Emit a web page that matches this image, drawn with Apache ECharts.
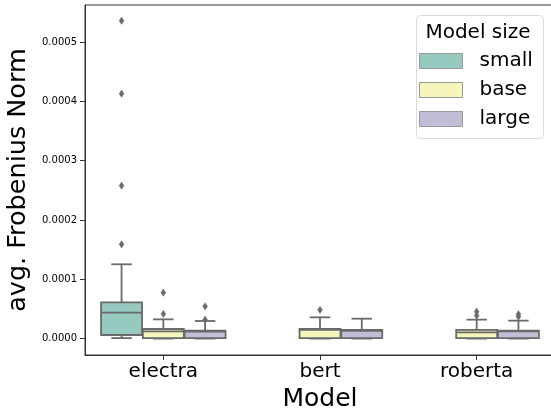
<!DOCTYPE html>
<html>
<head>
<meta charset="utf-8">
<script src="https://cdn.jsdelivr.net/npm/echarts@6/dist/echarts.min.js"></script>
<style>
html,body{margin:0;padding:0;background:#fff;}
#chart{width:551px;height:410px;}
</style>
</head>
<body>
<div id="chart"></div>
<script>
// ---- data ----
const categories = ['electra', 'bert', 'roberta'];
const sizes = ['small', 'base', 'large'];
// [categoryIndex, min, Q1, median, Q3, max]
const smallStats = [[0, 0.0000010, 0.0000062, 0.0000439, 0.0000612, 0.0001254]];
const baseStats = [
  [0, 0.0000002, 0.0000008, 0.0000123, 0.0000163, 0.0000326],
  [1, 0.0000002, 0.0000008, 0.0000150, 0.0000163, 0.0000360],
  [2, 0.0000002, 0.0000008, 0.0000106, 0.0000147, 0.0000321]
];
const largeStats = [
  [0, 0.0000002, 0.0000008, 0.0000118, 0.0000135, 0.0000298],
  [1, 0.0000002, 0.0000008, 0.0000133, 0.0000147, 0.0000337],
  [2, 0.0000002, 0.0000008, 0.0000122, 0.0000135, 0.0000304]
];
// [categoryIndex, value]
const smallOutliers = [[0, 0.000159], [0, 0.000258], [0, 0.000413], [0, 0.000536]];
const baseOutliers = [[0, 0.0000417], [0, 0.0000776], [1, 0.0000484], [2, 0.0000388], [2, 0.0000455]];
const largeOutliers = [[0, 0.0000320], [0, 0.0000545], [2, 0.0000371], [2, 0.0000413]];
const yTicks = [0, 0.0001, 0.0002, 0.0003, 0.0004, 0.0005];

// ---- style ----
const fills = ['#96cac1', '#f6f6bc', '#c1bed6'];
const edge = '#6a6a6a';
const font = 'DejaVu Sans';

function boxRenderer(hue) {
  return function (params, api) {
    const x = api.value(0);
    const cx = api.coord([x, 0])[0];
    const band = api.size([1, 0])[0];
    const w = band * 0.8 / 3;
    const c = cx + (hue - 1) * w;
    const bw = w * 0.98;
    const yMin = api.coord([x, api.value(1)])[1];
    const yQ1 = api.coord([x, api.value(2)])[1];
    const yMed = api.coord([x, api.value(3)])[1];
    const yQ3 = api.coord([x, api.value(4)])[1];
    const yMax = api.coord([x, api.value(5)])[1];
    const ls = { stroke: edge, lineWidth: 1.8 };
    return {
      type: 'group',
      children: [
        { type: 'line', shape: { x1: c, y1: yQ3, x2: c, y2: yMax }, style: ls },
        { type: 'line', shape: { x1: c, y1: yQ1, x2: c, y2: yMin }, style: ls },
        { type: 'line', shape: { x1: c - bw / 4, y1: yMax, x2: c + bw / 4, y2: yMax }, style: ls },
        { type: 'line', shape: { x1: c - bw / 4, y1: yMin, x2: c + bw / 4, y2: yMin }, style: ls },
        { type: 'rect', shape: { x: c - bw / 2, y: yQ3, width: bw, height: yQ1 - yQ3 },
          style: { fill: fills[hue], stroke: edge, lineWidth: 1.8 } },
        { type: 'line', shape: { x1: c - bw / 2, y1: yMed, x2: c + bw / 2, y2: yMed }, style: ls }
      ]
    };
  };
}
function outlierRenderer(hue) {
  return function (params, api) {
    const x = api.value(0);
    const cx = api.coord([x, 0])[0];
    const band = api.size([1, 0])[0];
    const w = band * 0.8 / 3;
    const c = cx + (hue - 1) * w;
    const y = api.coord([x, api.value(1)])[1];
    const hw = 2.4, hh = 3.6;
    return {
      type: 'polygon',
      shape: { points: [[c, y - hh], [c + hw, y], [c, y + hh], [c - hw, y]] },
      style: { fill: edge, stroke: edge, lineWidth: 0.5 }
    };
  };
}

const statsList = [smallStats, baseStats, largeStats];
const outList = [smallOutliers, baseOutliers, largeOutliers];
const series = [];
sizes.forEach(function (name, i) {
  series.push({
    type: 'custom', name: name, renderItem: boxRenderer(i),
    data: statsList[i], encode: { x: 0, y: [1, 2, 3, 4, 5] },
    itemStyle: { color: fills[i] }, z: 2
  });
});
sizes.forEach(function (name, i) {
  series.push({
    type: 'custom', name: name + ' outliers', renderItem: outlierRenderer(i),
    data: outList[i], encode: { x: 0, y: 1 }, z: 3
  });
});

const chart = echarts.init(document.getElementById('chart'));
chart.setOption({
  animation: false,
  backgroundColor: '#fff',
  grid: { left: 85, top: 5, right: -4, bottom: 55, show: true, borderColor: '#333', borderWidth: 1,
    backgroundColor: 'transparent', containLabel: false, outerBoundsMode: 'none' },
  xAxis: {
    type: 'category', data: categories,
    name: 'Model', nameLocation: 'middle', nameGap: 29,
    nameTextStyle: { fontFamily: font, fontSize: 25, color: '#000' },
    axisLine: { show: true, onZero: false, lineStyle: { color: '#333', width: 1 } },
    axisTick: { show: true, alignWithLabel: true, length: 5, lineStyle: { color: '#333' } },
    axisLabel: { fontFamily: font, fontSize: 20, color: '#000', margin: 7 },
    splitLine: { show: false }
  },
  yAxis: {
    type: 'value', min: -0.0000275, max: 0.0005625,
    name: 'avg. Frobenius Norm', nameLocation: 'middle', nameGap: 51,
    nameTextStyle: { fontFamily: font, fontSize: 25.5, color: '#000' },
    axisLine: { show: true, onZero: false, lineStyle: { color: '#333', width: 1 } },
    axisTick: { show: true, length: 5, customValues: yTicks, lineStyle: { color: '#333' } },
    axisLabel: { fontFamily: font, fontSize: 10, color: '#000', margin: 8, customValues: yTicks,
      formatter: function (v) { return v.toFixed(4); } },
    splitLine: { show: false }
  },
  legend: {
    data: sizes.map(function (s, i) {
      return { name: s, icon: 'rect', itemStyle: { color: fills[i], borderColor: '#9a9a9a', borderWidth: 1 } };
    }),
    orient: 'vertical', left: 419, top: 51, padding: 0,
    itemWidth: 43, itemHeight: 15, itemGap: 9,
    textStyle: { fontFamily: font, fontSize: 20, color: '#000', padding: [0, 0, 0, 12] },
    selectedMode: false, z: 20
  },
  graphic: [
    { type: 'rect', z: 15, shape: { x: 416.5, y: 15.5, width: 127, height: 123, r: 4 },
      style: { fill: 'rgba(255,255,255,0.8)', stroke: '#dcdcdc', lineWidth: 1 } },
    { type: 'text', z: 20, x: 478, y: 33,
      style: { text: 'Model size', font: '20px "DejaVu Sans"', fill: '#000', align: 'center', verticalAlign: 'middle' } }
  ],
  series: series
});
</script>
</body>
</html>
